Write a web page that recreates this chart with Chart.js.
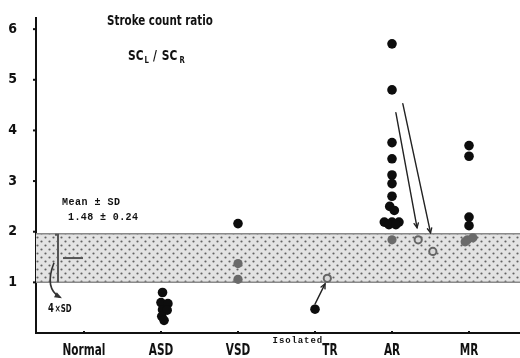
<!DOCTYPE html>
<html><head><meta charset="utf-8">
<script src="https://cdn.jsdelivr.net/npm/chart.js@4.4.1/dist/chart.umd.min.js"></script>
<style>html,body{margin:0;padding:0;background:#fff;}#wrap{width:520px;height:358px;}</style>
</head><body><div id="wrap"><canvas id="c" width="520" height="358"></canvas></div>
<script>
// ---- data ----
const categories = ['Normal','ASD','VSD','TR','AR','MR'];
const yTickLabels = ['1','2','3','4','5','6'];
const normalMean = 1.48, normalSD = 0.24;
// pre-operative (filled black)
const asdValues = [0.80,0.60,0.58,0.46,0.45,0.33,0.25];
const asdJitter = [0.02,0.00,0.09,0.02,0.08,0.01,0.04];
const vsdValues = [2.16];
const trValues = [0.47];
const arValues = [5.71,4.80,3.76,3.44,3.12,2.95,2.70,2.50,2.42,2.19,2.19,2.19,2.14,2.14];
const arJitter = [0,0,0,0,0,0,0,-0.03,0.03,-0.10,0,0.09,-0.04,0.05];
const mrValues = [3.70,3.49,2.29,2.12];
// values within normal band (grey)
const vsdGrey = [1.37,1.06];
const arGrey = [1.84];
const mrGrey = [1.84,1.88,1.80];
const mrGreyJitter = [-0.02,0.05,-0.05];
// open rings (post-operative)
const trRing = [1.08];
const trRingShift = [0.16];
const arRings = [1.84,1.61];
const arRingShift = [0.34,0.53];
// change arrows: [xFrom, yFrom, xTo, yTo] in category / ratio units
const changeArrows = [[4.05,4.35,4.325,2.08],[4.14,4.53,4.50,1.98],[3.00,0.57,3.13,0.97]];

const idx = n => categories.indexOf(n);
function pts(cat, vals, jit){ return vals.map((v,i)=>({x: idx(cat)+(jit?jit[i]:0), y: v})); }

const blackPts = [].concat(pts('ASD',asdValues,asdJitter), pts('VSD',vsdValues), pts('TR',trValues), pts('AR',arValues,arJitter), pts('MR',mrValues));
const greyPts = [].concat(pts('VSD',vsdGrey), pts('AR',arGrey), pts('MR',mrGrey,mrGreyJitter));
const ringPts = [].concat(pts('TR',trRing,trRingShift), pts('AR',arRings,arRingShift));

const NARROW = "'Liberation Sans Narrow','DejaVu Sans Condensed','Arial Narrow',sans-serif";
const MONO = "'Liberation Mono','DejaVu Sans Mono',monospace";
const SQUEEZE = 0.78;

function arrow(ctx,x1,y1,x2,y2,head,w,color){
  ctx.save(); ctx.strokeStyle=color; ctx.lineWidth=w; ctx.lineCap='round';
  ctx.beginPath(); ctx.moveTo(x1,y1); ctx.lineTo(x2,y2); ctx.stroke();
  const a=Math.atan2(y2-y1,x2-x1);
  ctx.beginPath();
  ctx.moveTo(x2-head*Math.cos(a-0.45), y2-head*Math.sin(a-0.45));
  ctx.lineTo(x2,y2);
  ctx.lineTo(x2-head*Math.cos(a+0.45), y2-head*Math.sin(a+0.45));
  ctx.stroke(); ctx.restore();
}
// draws text; sq = horizontal squeeze factor; returns drawn width
function txt(ctx,s,x,y,font,spacing,align,sq){
  sq = sq||1;
  ctx.save(); ctx.font=font; ctx.fillStyle='#111'; ctx.textAlign=align||'left'; ctx.textBaseline='alphabetic';
  ctx.letterSpacing = (spacing||0)+'px';
  ctx.translate(x,y); ctx.scale(sq,1);
  ctx.fillText(s,0,0); const w=ctx.measureText(s).width*sq; ctx.restore(); return w;
}

const bandPlugin = {
  id:'band',
  beforeDatasetsDraw(chart){
    const {ctx, chartArea:a, scales:{y}} = chart;
    const top = y.getPixelForValue(normalMean+2*normalSD), bot = y.getPixelForValue(normalMean-2*normalSD);
    const t = document.createElement('canvas'); t.width=8; t.height=8;
    const tc = t.getContext('2d'); tc.fillStyle='#e3e3e3'; tc.fillRect(0,0,8,8);
    tc.fillStyle='#626262';
    tc.beginPath(); tc.arc(1.5,1.5,1.1,0,Math.PI*2); tc.arc(5.5,5.5,1.1,0,Math.PI*2); tc.fill();
    ctx.save();
    ctx.fillStyle = ctx.createPattern(t,'repeat');
    ctx.fillRect(a.left, top, a.right-a.left, bot-top);
    ctx.strokeStyle='#8a8a8a'; ctx.lineWidth=1.5;
    ctx.beginPath(); ctx.moveTo(a.left,top); ctx.lineTo(a.right,top); ctx.moveTo(a.left,bot); ctx.lineTo(a.right,bot); ctx.stroke();
    ctx.restore();
  },
  afterDatasetsDraw(chart){
    const {ctx, chartArea:a, scales:{x,y}} = chart;
    // small tick nubs
    ctx.save(); ctx.strokeStyle='#111'; ctx.lineWidth=2;
    y.ticks.forEach(t=>{ if (yTickLabels.includes(String(t.value))) { const py=y.getPixelForValue(t.value); ctx.beginPath(); ctx.moveTo(a.left-3,py); ctx.lineTo(a.left,py); ctx.stroke(); }});
    categories.forEach((c,i)=>{ const p=x.getPixelForValue(i); ctx.beginPath(); ctx.moveTo(p,a.bottom-2); ctx.lineTo(p,a.bottom); ctx.stroke(); });
    ctx.restore();
    // change arrows
    changeArrows.forEach(r=>arrow(ctx,x.getPixelForValue(r[0]),y.getPixelForValue(r[1]),x.getPixelForValue(r[2]),y.getPixelForValue(r[3]),5,1.4,'#222'));
    // normal bracket (4 x SD) and mean
    const top = y.getPixelForValue(normalMean+2*normalSD), bot = y.getPixelForValue(normalMean-2*normalSD);
    const bx = a.left+22;
    ctx.save(); ctx.strokeStyle='#555'; ctx.lineWidth=2;
    ctx.beginPath(); ctx.moveTo(bx-3,top+1); ctx.lineTo(bx,top+1); ctx.lineTo(bx,bot); ctx.stroke();
    ctx.beginPath(); ctx.moveTo(a.left+27,y.getPixelForValue(normalMean)); ctx.lineTo(a.left+47,y.getPixelForValue(normalMean)); ctx.stroke();
    // curved arrow
    ctx.strokeStyle='#333'; ctx.lineWidth=1.6;
    const sx=a.left+18, sy=top+29, cx=a.left+8, cy=bot+6, ex=a.left+24, ey=bot+15;
    ctx.beginPath(); ctx.moveTo(sx,sy); ctx.quadraticCurveTo(cx,cy,ex,ey); ctx.stroke();
    const ang=Math.atan2(ey-cy,ex-cx);
    ctx.fillStyle='#333';
    ctx.beginPath(); ctx.moveTo(ex+2,ey+1);
    ctx.lineTo(ex-6*Math.cos(ang-0.5), ey-6*Math.sin(ang-0.5));
    ctx.lineTo(ex-6*Math.cos(ang+0.5), ey-6*Math.sin(ang+0.5)); ctx.closePath(); ctx.fill();
    ctx.restore();
    let w = txt(ctx,'4',a.left+12,bot+30,"bold 12px "+NARROW,0,'left',SQUEEZE);
    txt(ctx,'×SD',a.left+12+w+1,bot+30,"bold 10px "+NARROW,0,'left',SQUEEZE);
    // Mean ± SD text
    txt(ctx,'Mean ± SD',a.left+26,top-29,"bold 10px "+MONO,0.5);
    txt(ctx,'1.48 ± 0.24',a.left+32,top-14,"bold 10px "+MONO,0.4);
    // title
    txt(ctx,'Stroke count ratio',160,25,"bold 14px "+NARROW,0,'center',0.82);
    let px=128; const by=60;
    px += txt(ctx,'SC',px,by,"bold 14px "+NARROW,0,'left',0.85);
    px += txt(ctx,'L',px+1,by+3,"bold 9px "+NARROW,0,'left',0.85)+5;
    px += txt(ctx,'/',px,by,"bold 14px "+NARROW,0,'left',0.85)+5;
    px += txt(ctx,'SC',px,by,"bold 14px "+NARROW,0,'left',0.85);
    txt(ctx,'R',px+2,by+3,"bold 9px "+NARROW,0,'left',0.85);
    // x category labels
    categories.forEach((c,i)=>{
      const p = x.getPixelForValue(i);
      if (c==='TR'){
        txt(ctx,'TR',p+15,a.bottom+22,"bold 15px "+NARROW,0,'center',SQUEEZE);
        txt(ctx,'Isolated',p+8,a.bottom+10,"bold 9px "+MONO,0.9,'right');
      } else {
        txt(ctx,c,p,a.bottom+22,"bold 15px "+NARROW,0,'center',SQUEEZE);
      }
    });
  }
};

new Chart(document.getElementById('c'), {
  type:'scatter',
  data:{datasets:[
    {data:greyPts, pointRadius:4.6, backgroundColor:'#6a6a6a', borderColor:'#6a6a6a', borderWidth:0},
    {data:ringPts, pointRadius:3.6, backgroundColor:'#d8d8d8', borderColor:'#666', borderWidth:2},
    {data:blackPts, pointRadius:4.8, backgroundColor:'#0d0d0d', borderColor:'#0d0d0d', borderWidth:0}
  ]},
  options:{
    responsive:false, animation:false, devicePixelRatio:1,
    layout:{autoPadding:false, padding:{top:18,right:0,bottom:0,left:0}},
    plugins:{legend:{display:false}, tooltip:{enabled:false}},
    elements:{point:{hoverRadius:4.8}},
    scales:{
      x:{type:'linear', min:-0.623, max:5.662, afterFit(s){s.height=25;},
         ticks:{display:false, stepSize:1, includeBounds:false},
         grid:{display:false}, border:{display:true,color:'#111',width:2}},
      y:{min:0, max:6.22, afterFit(s){s.width=36;},
         ticks:{stepSize:1, includeBounds:false, padding:0, color:'#111',
                font:{family:NARROW, size:14, weight:'bold'},
                callback:v=> yTickLabels.includes(String(v)) ? String(v) : ''},
         grid:{drawOnChartArea:false, drawTicks:true, tickLength:19, tickWidth:1, tickColor:'rgba(0,0,0,0)', color:'rgba(0,0,0,0)'},
         border:{display:true,color:'#111',width:2}}
    }
  },
  plugins:[bandPlugin]
});
</script></body></html>
